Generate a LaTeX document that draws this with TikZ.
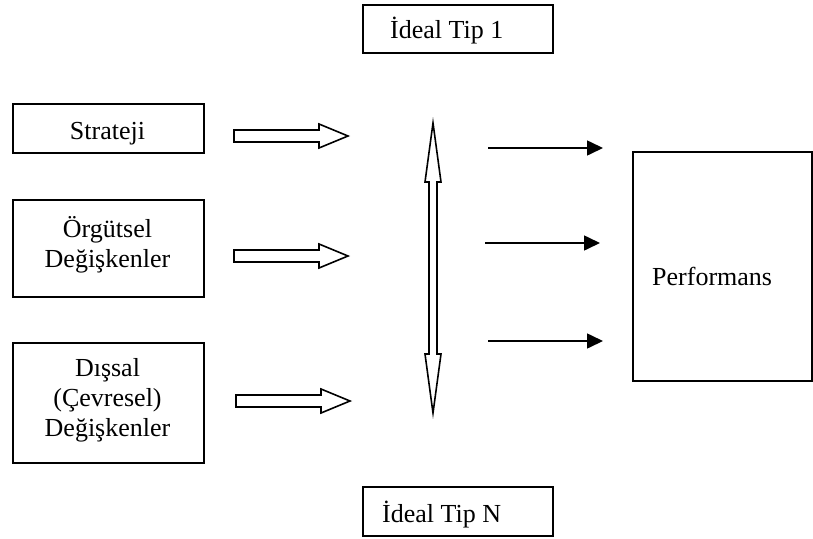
\documentclass[tikz,border=0pt]{standalone}
\usepackage{fontspec}
\setmainfont{Liberation Serif}
\usetikzlibrary{arrows.meta}
\begin{document}
\begin{tikzpicture}[x=1pt,y=-1pt,line join=miter,
  box/.style={draw,line width=1.6pt,inner sep=0pt,anchor=north west},
  lbl/.style={font=\fontsize{26}{30}\selectfont,align=center,inner sep=0pt,anchor=base},
  lblw/.style={font=\fontsize{26}{30}\selectfont,inner sep=0pt,anchor=base west},
  hollow/.style={draw,line width=1.6pt,fill=white},
  solidarrow/.style={draw,line width=1.6pt,-{Triangle[length=16pt,width=15pt]}},
  harrow/.pic={\draw[hollow] (0,-6) -- (85,-6) -- (85,-12) -- (114,0) -- (85,12) -- (85,6) -- (0,6) -- cycle;},
  varrow/.pic={\draw[hollow] (0,0) -- (8,59) -- (4,59) -- (4,231) -- (8,231) -- (0,290) -- (-8,231) -- (-4,231) -- (-4,59) -- (-8,59) -- cycle;}]
\useasboundingbox (0,0) rectangle (813,538);

% boxes
\node[box,minimum width=190pt,minimum height=48pt] (tip1) at (362,4) {};
\node[box,minimum width=190pt,minimum height=49pt] (tipN) at (362,486) {};
\node[box,minimum width=191pt,minimum height=49pt] (strat) at (12,103) {};
\node[box,minimum width=191pt,minimum height=97pt] (org) at (12,199) {};
\node[box,minimum width=191pt,minimum height=120pt] (dis) at (12,342) {};
\node[box,minimum width=179pt,minimum height=229pt] (perf) at (632,151) {};

% texts
\node[lblw] (t1) at (390,38) {İdeal Tip 1};
\node[lblw] (tN) at (382,522) {İdeal Tip N};
\node[lbl] (tstrat) at (107.5,139) {Strateji};
\node[lbl] (torg) at (107.5,267) {Örgütsel\\Değişkenler};
\node[lbl] (tdis) at (107.5,436) {Dışsal\\(Çevresel)\\Değişkenler};
\node[lblw] (tperf) at (652,285) {Performans};

% hollow arrows
\coordinate (h1) at (234,136);
\coordinate (h2) at (234,256);
\coordinate (h3) at (236,401);
\pic at (h1) {harrow};
\pic at (h2) {harrow};
\pic at (h3) {harrow};

% vertical double arrow
\coordinate (vt) at (433,123);
\pic at (vt) {varrow};

% solid arrows
\coordinate (s1a) at (488,148); \coordinate (s1b) at (603,148);
\coordinate (s2a) at (485,243); \coordinate (s2b) at (600,243);
\coordinate (s3a) at (488,341); \coordinate (s3b) at (603,341);
\draw[solidarrow] (s1a) -- (s1b);
\draw[solidarrow] (s2a) -- (s2b);
\draw[solidarrow] (s3a) -- (s3b);
\end{tikzpicture}
\end{document}
